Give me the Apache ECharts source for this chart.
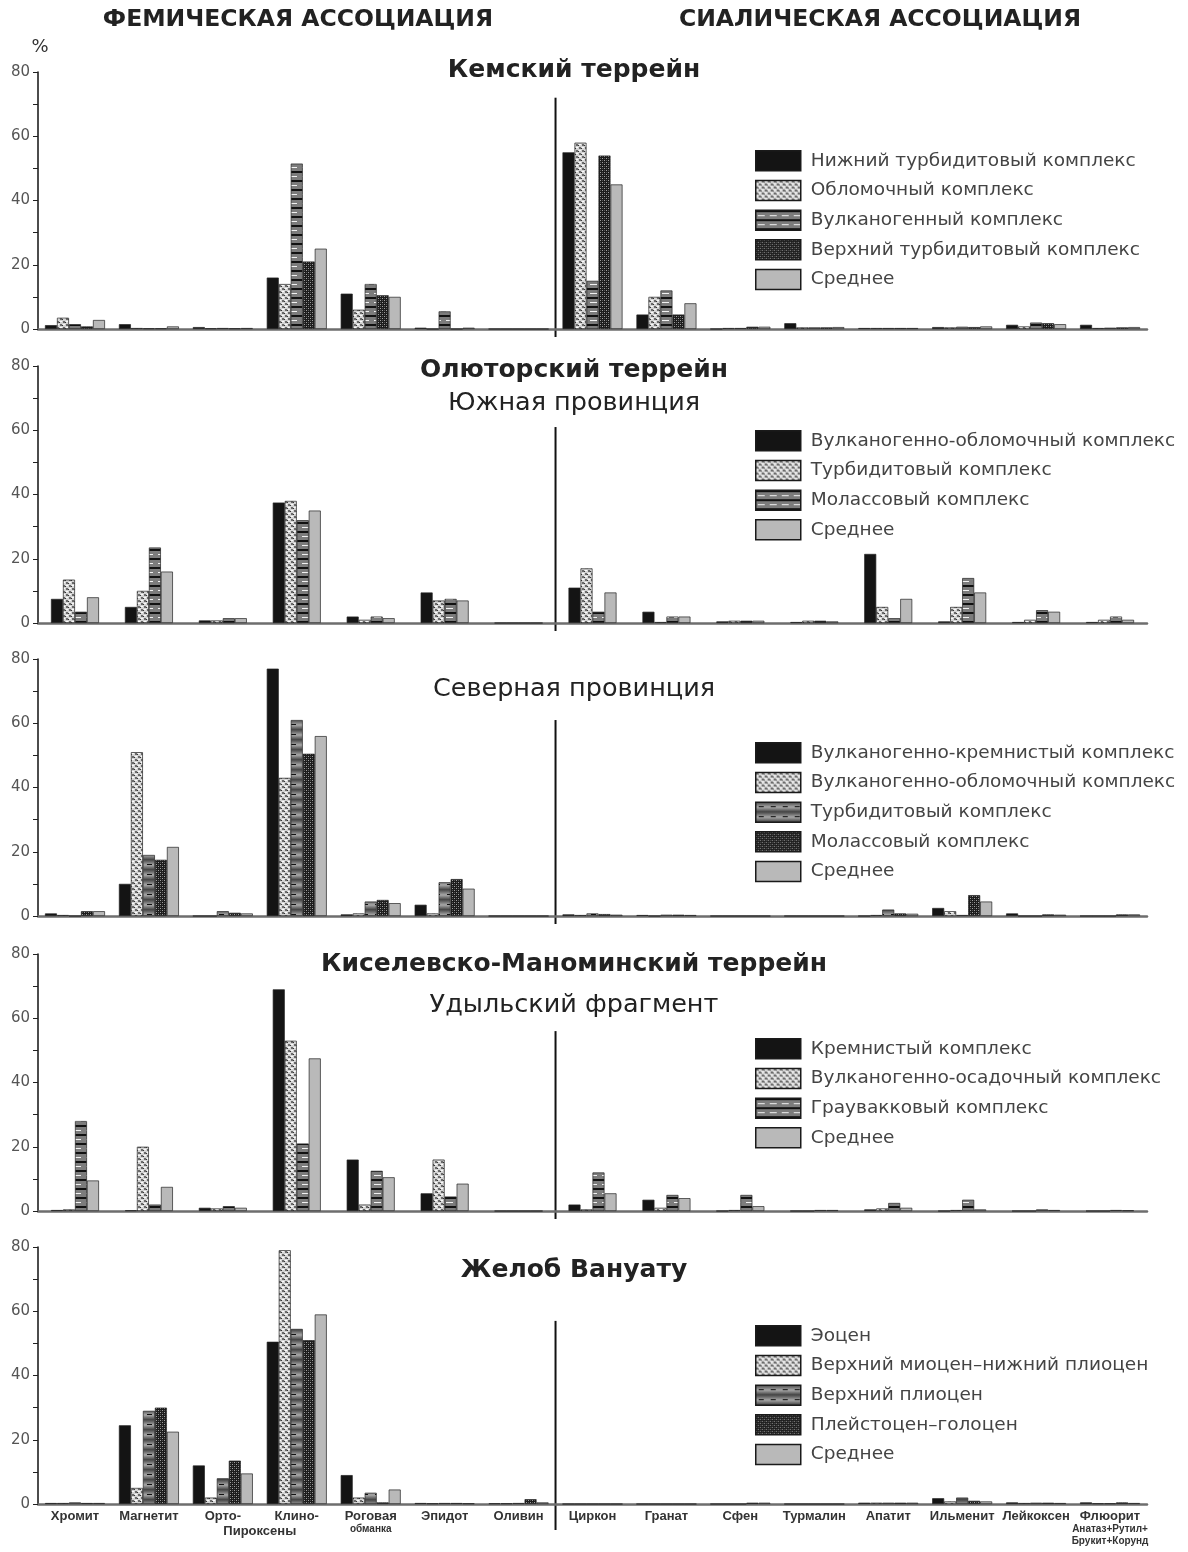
<!DOCTYPE html>
<html>
<head>
<meta charset="utf-8">
<script src="https://cdn.jsdelivr.net/npm/echarts@6/dist/echarts.min.js"></script>
<style>
  html, body { margin: 0; padding: 0; background: #fff; }
  #chart { width: 1188px; height: 1552px; }
</style>
</head>
<body>
<div id="chart"></div>
<script>
// ---- Categories (femic: first 7, sialic: last 8) ----
const minerals = ['Хромит', 'Магнетит', 'Орто-', 'Клино-', 'Роговая обманка', 'Эпидот', 'Оливин',
  'Циркон', 'Гранат', 'Сфен', 'Турмалин', 'Апатит', 'Ильменит', 'Лейкоксен', 'Флюорит'];
const yTicks = [0, 20, 40, 60, 80];

// ---- Кемский террейн ----
const kemNames = ['Нижний турбидитовый комплекс', 'Обломочный комплекс', 'Вулканогенный комплекс',
  'Верхний турбидитовый комплекс', 'Среднее'];
const kemLowerTurb = [1.2, 1.5, 0.6, 16, 11, 0.4, 0, 55, 4.5, 0, 1.8, 0.3, 0.6, 1.3, 1.3];
const kemClastic   = [3.5, 0.3, 0.2, 14, 6, 0, 0, 58, 10, 0.3, 0.5, 0.3, 0.5, 0.8, 0.3];
const kemVolcanic  = [1.5, 0.2, 0.3, 51.5, 14, 5.5, 0, 15, 12, 0.3, 0.5, 0.3, 0.7, 2, 0.4];
const kemUpperTurb = [0.8, 0.2, 0.2, 21, 10.5, 0, 0, 54, 4.5, 0.7, 0.5, 0.3, 0.6, 1.8, 0.5];
const kemMean      = [2.8, 0.8, 0.3, 25, 10, 0.4, 0, 45, 8, 0.7, 0.6, 0.3, 0.8, 1.5, 0.6];

// ---- Олюторский террейн, Южная провинция ----
const southNames = ['Вулканогенно-обломочный комплекс', 'Турбидитовый комплекс', 'Молассовый комплекс', 'Среднее'];
const southVolcClastic = [7.5, 5, 0.8, 37.5, 2, 9.5, 0, 11, 3.5, 0.5, 0.3, 21.5, 0.5, 0.3, 0.3];
const southTurbidite   = [13.5, 10, 0.8, 38, 1, 7, 0, 17, 0.3, 0.7, 0.7, 5, 5, 1, 1];
const southMolasse     = [3.5, 23.5, 1.5, 32, 2, 7.5, 0, 3.5, 2, 0.7, 0.7, 1.5, 14, 4, 2];
const southMean        = [8, 16, 1.5, 35, 1.5, 7, 0, 9.5, 2, 0.7, 0.5, 7.5, 9.5, 3.5, 1];

// ---- Северная провинция ----
const northNames = ['Вулканогенно-кремнистый комплекс', 'Вулканогенно-обломочный комплекс',
  'Турбидитовый комплекс', 'Молассовый комплекс', 'Среднее'];
const northVolcSiliceous = [0.8, 10, 0, 77, 0.5, 3.5, 0, 0.5, 0.3, 0, 0, 0, 2.5, 0.8, 0];
const northVolcClastic   = [0.3, 51, 0, 43, 0.8, 0.8, 0, 0.3, 0, 0, 0, 0.3, 1.5, 0, 0];
const northTurbidite     = [0, 19, 1.5, 61, 4.5, 10.5, 0, 0.8, 0.4, 0, 0, 2, 0.3, 0, 0];
const northMolasse       = [1.5, 17.5, 1, 50.5, 5, 11.5, 0, 0.6, 0.4, 0, 0, 0.8, 6.5, 0.5, 0.5];
const northMean          = [1.5, 21.5, 0.8, 56, 4, 8.5, 0, 0.4, 0.3, 0, 0, 0.7, 4.5, 0.4, 0.5];

// ---- Киселевско-Маноминский террейн, Удыльский фрагмент ----
const udylNames = ['Кремнистый комплекс', 'Вулканогенно-осадочный комплекс', 'Граувакковый комплекс', 'Среднее'];
const udylSiliceous   = [0.3, 0.2, 1, 69, 16, 5.5, 0, 2, 3.5, 0, 0, 0.5, 0, 0, 0];
const udylVolcSedim   = [0.5, 20, 0.8, 53, 2, 16, 0, 0.5, 1, 0.3, 0, 0.8, 0.3, 0, 0];
const udylGreywacke   = [28, 2, 1.5, 21, 12.5, 4.5, 0, 12, 5, 5, 0.3, 2.5, 3.5, 0.5, 0.3];
const udylMean        = [9.5, 7.5, 1, 47.5, 10.5, 8.5, 0, 5.5, 4, 1.5, 0.3, 1, 0.5, 0.3, 0.2];

// ---- Желоб Вануату ----
const vanNames = ['Эоцен', 'Верхний миоцен–нижний плиоцен', 'Верхний плиоцен', 'Плейстоцен–голоцен', 'Среднее'];
const vanEocene      = [0.3, 24.5, 12, 50.5, 9, 0.3, 0.2, 0, 0, 0, 0, 0.4, 1.8, 0.5, 0.5];
const vanMioPlio     = [0.3, 5, 2, 79, 2, 0.2, 0.2, 0, 0, 0, 0, 0.4, 0.8, 0.3, 0.2];
const vanUpperPlio   = [0.5, 29, 8, 54.5, 3.5, 0.3, 0.3, 0, 0, 0, 0, 0.4, 2, 0.4, 0.2];
const vanPleistHolo  = [0.3, 30, 13.5, 51, 0.5, 0.3, 1.5, 0, 0, 0.4, 0, 0.4, 1, 0.4, 0.5];
const vanMean        = [0.3, 22.5, 9.5, 59, 4.5, 0.2, 0.5, 0, 0, 0.4, 0, 0.4, 0.8, 0.3, 0.3];

// ---- Fill patterns ----
function tile(w, h, draw) {
  const c = document.createElement('canvas');
  c.width = w; c.height = h;
  draw(c.getContext('2d'));
  return { image: c, repeat: 'repeat' };
}
const fillSolid = '#141414';
const fillDotted = tile(6, 6, g => {
  g.fillStyle = '#d4d4d4'; g.fillRect(0, 0, 6, 6);
  g.fillStyle = '#6a6a6a'; g.fillRect(0, 0, 2, 2); g.fillRect(3, 3, 2, 2);
  g.fillStyle = '#fafafa'; g.fillRect(3, 0, 2, 1); g.fillRect(0, 3, 2, 1);
  g.fillStyle = '#333'; g.fillRect(2, 1, 1, 1); g.fillRect(5, 4, 1, 1);
});
const fillStriped = tile(12, 9, g => {
  g.fillStyle = '#7c7c7c'; g.fillRect(0, 0, 12, 9);
  g.fillStyle = '#111'; g.fillRect(0, 0, 12, 2);
  g.fillStyle = '#f2f2f2'; g.fillRect(2, 5, 7, 1);
});
const fillGradient = tile(12, 10, g => {
  const gr = g.createLinearGradient(0, 0, 0, 10);
  gr.addColorStop(0, '#4a4a4a'); gr.addColorStop(0.5, '#a8a8a8'); gr.addColorStop(1, '#3c3c3c');
  g.fillStyle = gr; g.fillRect(0, 0, 12, 10);
  g.fillStyle = '#111'; g.fillRect(3, 4, 5, 1);
});
const fillChecker = tile(4, 4, g => {
  g.fillStyle = '#1c1c1c'; g.fillRect(0, 0, 4, 4);
  g.fillStyle = '#a0a0a0'; g.fillRect(0, 0, 1, 1); g.fillRect(2, 2, 1, 1);
  g.fillStyle = '#555'; g.fillRect(2, 0, 1, 1); g.fillRect(0, 2, 1, 1);
});
const fillMean = '#b9b9b9';

// ---- Panels ----
const panels = [
  { names: kemNames, data: [kemLowerTurb, kemClastic, kemVolcanic, kemUpperTurb, kemMean],
    fills: [fillSolid, fillDotted, fillStriped, fillChecker, fillMean],
    top: 72, legendTop: 150, divTop: 72,
    titles: [{ t: 'Кемский террейн', bold: true, y: 70 }] },
  { names: southNames, data: [southVolcClastic, southTurbidite, southMolasse, southMean],
    fills: [fillSolid, fillDotted, fillStriped, fillMean],
    top: 366, legendTop: 430, divTop: 61,
    titles: [{ t: 'Олюторский террейн', bold: true, y: 370 }, { t: 'Южная провинция', bold: false, y: 403 }] },
  { names: northNames, data: [northVolcSiliceous, northVolcClastic, northTurbidite, northMolasse, northMean],
    fills: [fillSolid, fillDotted, fillGradient, fillChecker, fillMean],
    top: 659, legendTop: 742, divTop: 61,
    titles: [{ t: 'Северная провинция', bold: false, y: 689 }] },
  { names: udylNames, data: [udylSiliceous, udylVolcSedim, udylGreywacke, udylMean],
    fills: [fillSolid, fillDotted, fillStriped, fillMean],
    top: 954, legendTop: 1038, divTop: 56,
    titles: [{ t: 'Киселевско-Маноминский террейн', bold: true, y: 964 }, { t: 'Удыльский фрагмент', bold: false, y: 1005 }] },
  { names: vanNames, data: [vanEocene, vanMioPlio, vanUpperPlio, vanPleistHolo, vanMean],
    fills: [fillSolid, fillDotted, fillGradient, fillChecker, fillMean],
    top: 1247, legendTop: 1325, divTop: 57,
    titles: [{ t: 'Желоб Вануату', bold: true, y: 1270 }] }
];

const GRID_H = 257;
const LAST = panels.length - 1;
const grids = [], xAxes = [], yAxes = [], series = [], legends = [];

panels.forEach((p, i) => {
  grids.push({ left: 38, right: 41, top: p.top, height: GRID_H });
  xAxes.push({
    type: 'category', gridIndex: i, data: minerals,
    axisLine: { lineStyle: { color: '#6e6e6e', width: 2.5 } },
    axisTick: { length: i === LAST ? 18 : 8, lineStyle: { color: '#111', width: 1.5 } },
    axisLabel: {
      show: i === LAST, interval: 0, margin: 5,
      fontFamily: 'Liberation Sans', fontSize: 13, fontWeight: 'bold', color: '#333',
      formatter: v => {
        if (v === 'Роговая обманка') return '{a|Роговая}\n{b|обманка}';
        if (v === 'Флюорит') return '{a|Флюорит}\n{b|Анатаз+Рутил+}\n{b|Брукит+Корунд}';
        return '{a|' + v + '}';
      },
      rich: {
        a: { fontFamily: 'Liberation Sans', fontSize: 13, fontWeight: 'bold', color: '#333', lineHeight: 14 },
        b: { fontFamily: 'Liberation Sans', fontSize: 10, fontWeight: 'bold', color: '#333', lineHeight: 12 }
      }
    }
  });
  yAxes.push({
    type: 'value', gridIndex: i, min: 0, max: 80, interval: 10,
    splitLine: { show: false },
    axisLine: { show: true, lineStyle: { color: '#111', width: 1.5 } },
    axisTick: { show: true, length: 5, lineStyle: { color: '#222', width: 1 } },
    axisLabel: {
      margin: 8, fontFamily: 'DejaVu Sans', fontSize: 15, color: '#555',
      formatter: v => (yTicks.indexOf(v) >= 0 ? String(v) : '')
    }
  });
  const legendData = [];
  p.names.forEach((nm, k) => {
    const sname = nm + '@' + i;
    legendData.push(sname);
    series.push({
      type: 'bar', name: sname, xAxisIndex: i, yAxisIndex: i,
      data: p.data[k], barWidth: 12, barGap: '0%',
      itemStyle: { color: p.fills[k], borderColor: '#222', borderWidth: 0.7 },
      emphasis: { disabled: true }, animation: false
    });
  });
  legends.push({
    data: legendData, orient: 'vertical', left: 755, top: p.legendTop, padding: 0,
    icon: 'rect', itemWidth: 45, itemHeight: 20, itemGap: 8.2,
    selectedMode: false,
    itemStyle: { borderColor: '#1a1a1a', borderWidth: 1.5 },
    formatter: n => n.split('@')[0],
    textStyle: { fontFamily: 'DejaVu Sans', fontSize: 18.5, color: '#444', padding: [0, 0, 0, 5] }
  });
});

const chart = echarts.init(document.getElementById('chart'), null, { renderer: 'canvas' });
chart.setOption({
  backgroundColor: '#fff',
  animation: false,
  tooltip: { show: false },
  grid: grids, xAxis: xAxes, yAxis: yAxes, series: series, legend: legends
});

// ---- Headings, panel titles, femic/sialic dividers ----
const elements = [
  { type: 'text', x: 298, y: 20, style: { text: 'ФЕМИЧЕСКАЯ АССОЦИАЦИЯ', font: 'bold 23.5px "DejaVu Sans"', fill: '#222', align: 'center', verticalAlign: 'middle' } },
  { type: 'text', x: 880, y: 20, style: { text: 'СИАЛИЧЕСКАЯ АССОЦИАЦИЯ', font: 'bold 23.5px "DejaVu Sans"', fill: '#222', align: 'center', verticalAlign: 'middle' } },
  { type: 'text', x: 40, y: 47, style: { text: '%', font: '18px "DejaVu Sans"', fill: '#333', align: 'center', verticalAlign: 'middle' } }
];
panels.forEach((p, i) => {
  p.titles.forEach(t => {
    elements.push({ type: 'text', x: 574, y: t.y, style: {
      text: t.t, font: (t.bold ? 'bold 25px' : '25.5px') + ' "DejaVu Sans"', fill: '#222',
      align: 'center', verticalAlign: 'middle' } });
  });
  const xa = chart.convertToPixel({ xAxisIndex: i }, 'Оливин');
  const xb = chart.convertToPixel({ xAxisIndex: i }, 'Циркон');
  const xd = (xa + xb) / 2;
  const yTop = chart.convertToPixel({ yAxisIndex: i }, p.divTop);
  const y0 = chart.convertToPixel({ yAxisIndex: i }, 0);
  elements.push({ type: 'line', shape: { x1: xd, y1: yTop, x2: xd, y2: y0 + (i === LAST ? 26 : 8) },
    style: { stroke: '#111', lineWidth: 2 } });
  if (i === LAST) {
    const xo = chart.convertToPixel({ xAxisIndex: i }, 'Орто-');
    const xk = chart.convertToPixel({ xAxisIndex: i }, 'Клино-');
    elements.push({ type: 'text', x: (xo + xk) / 2, y: y0 + 27, style: {
      text: 'Пироксены', font: 'bold 13px "Liberation Sans"', fill: '#333',
      align: 'center', verticalAlign: 'middle' } });
  }
});
chart.setOption({ graphic: { elements: elements } });
</script>
</body>
</html>
